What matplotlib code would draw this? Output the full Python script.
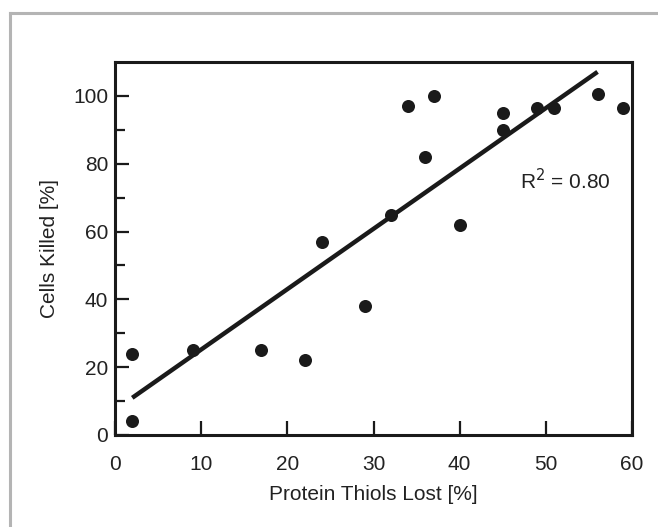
import numpy as np
import matplotlib.pyplot as plt
from matplotlib.lines import Line2D

plt.rcParams['font.family'] = ['Liberation Sans', 'DejaVu Sans']

# protein thiols lost vs cells killed
thiols_lost = [2, 2, 9, 17, 22, 24, 29, 32, 34, 36, 37, 40, 45, 45, 49, 51, 56, 59]
cells_killed = [24, 4, 25, 25, 22, 57, 38, 65, 97, 82, 100, 62, 95, 90, 96.5, 96.5, 100.5, 96.5]

# regression line
fit_x = [2, 56]
fit_slope = 1.78
fit_icpt = 7.4
r2_text = 'R$^2$ = 0.80'

fig = plt.figure(figsize=(6.58, 5.27), dpi=100)
ax = fig.add_axes([0.1748, 0.1746, 0.7857, 0.7078])

# gray frame on left and top of the figure
fig.add_artist(Line2D([10/658, 10/658], [0, 1 - 13/527], color='#b4b4b4', lw=2.2,
                      transform=fig.transFigure))
fig.add_artist(Line2D([10/658, 1], [1 - 13/527, 1 - 13/527], color='#b4b4b4', lw=2.2,
                      transform=fig.transFigure))

fx = np.array(fit_x)
ax.plot(fx, fit_icpt + fit_slope * fx, color='#1a1a1a', lw=3.2, solid_capstyle='butt', zorder=2)
ax.scatter(thiols_lost, cells_killed, s=88, color='#1a1a1a', zorder=3, linewidths=0)

ax.text(47, 75, r2_text, fontsize=15, ha='left', va='center', color='#222222')

ax.set_xlim(0, 60)
ax.set_ylim(0, 110)
ax.set_xticks(range(0, 61, 10))
ax.set_yticks(range(0, 101, 20))
ax.set_yticks(range(10, 110, 20), minor=True)

for sp in ax.spines.values():
    sp.set_linewidth(2.2)
    sp.set_color('#1a1a1a')

ax.tick_params(which='major', direction='in', length=10, width=1.6, color='#1a1a1a',
               labelsize=15, labelcolor='#222222')
ax.tick_params(axis='x', which='major', pad=14.5)
ax.tick_params(axis='y', which='major', pad=5)
ax.tick_params(which='minor', direction='in', length=7, width=1.6, color='#1a1a1a')

ax.set_xlabel('Protein Thiols Lost [%]', fontsize=15, color='#222222', labelpad=8)
ax.set_ylabel('Cells Killed [%]', fontsize=15, color='#222222', labelpad=10)

fig.savefig('out.png', dpi=100)
